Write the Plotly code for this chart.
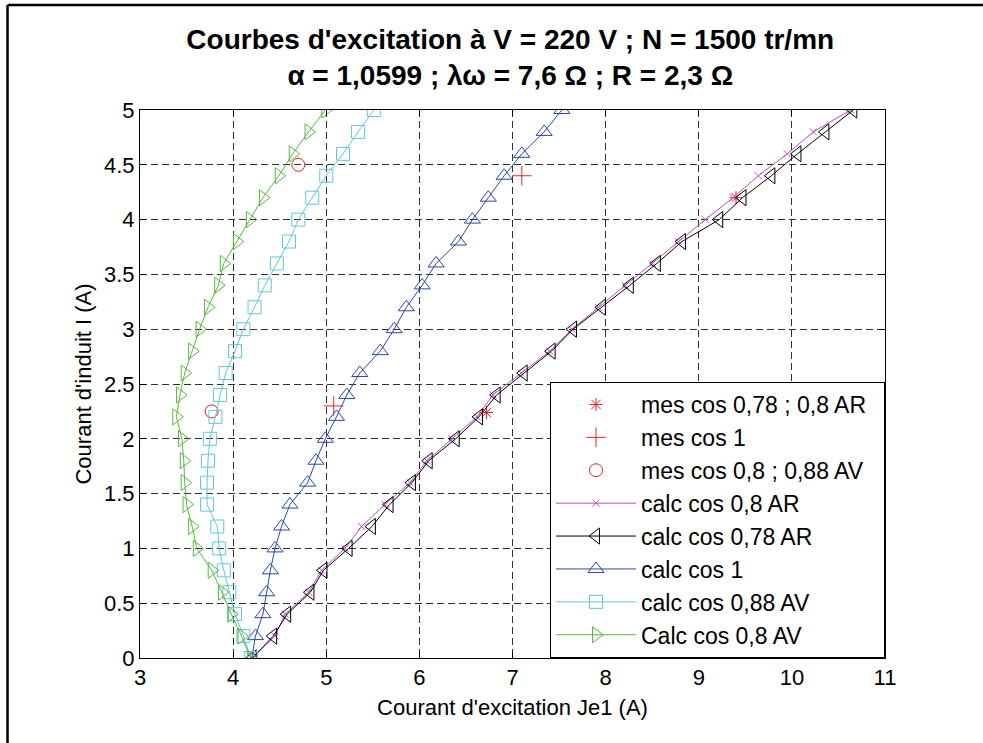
import plotly.graph_objects as go

# Current I (A) levels for calculated curves
I_calc = [0.0, 0.2, 0.4, 0.6, 0.8, 1.0, 1.2, 1.4, 1.6, 1.8, 2.0, 2.2, 2.4,
          2.6, 2.8, 3.0, 3.2, 3.4, 3.6, 3.8, 4.0, 4.2, 4.4, 4.6, 4.8, 5.0]

Je_calc_08AR = [4.20, 4.45, 4.56, 4.81, 4.95, 5.20, 5.38, 5.63, 5.90, 6.08, 6.35, 6.62, 6.79,
                7.09, 7.40, 7.64, 7.92, 8.21, 8.50, 8.78, 9.07, 9.37, 9.64, 9.95, 10.23, 10.63]
Je_calc_078AR = [4.21, 4.43, 4.58, 4.83, 4.97, 5.24, 5.49, 5.68, 5.92, 6.10, 6.39, 6.64, 6.83,
                 7.12, 7.42, 7.65, 7.96, 8.26, 8.55, 8.82, 9.22, 9.47, 9.78, 10.06, 10.36, 10.66]
Je_calc_1 = [4.20, 4.24, 4.32, 4.36, 4.40, 4.45, 4.52, 4.61, 4.80, 4.89, 4.99, 5.11, 5.22,
             5.36, 5.58, 5.73, 5.86, 6.03, 6.18, 6.42, 6.57, 6.74, 6.91, 7.10, 7.34, 7.53]
Je_calc_088AV = [4.19, 4.11, 4.02, 3.96, 3.90, 3.85, 3.83, 3.72, 3.72, 3.73, 3.75, 3.81, 3.86,
                 3.92, 4.02, 4.11, 4.23, 4.34, 4.47, 4.60, 4.70, 4.85, 5.00, 5.18, 5.34, 5.51]
Je_calc_08AV = [4.19, 4.09, 3.98, 3.88, 3.77, 3.61, 3.56, 3.50, 3.48, 3.47, 3.45, 3.39, 3.43,
                3.48, 3.56, 3.64, 3.73, 3.84, 3.90, 4.04, 4.18, 4.32, 4.49, 4.64, 4.81, 4.99]

# Measured points
Je_mes_AR = [6.72, 9.40]
I_mes_AR = [2.24, 4.20]
Je_mes_1 = [5.08, 7.10]
I_mes_1 = [2.30, 4.40]
Je_mes_AV = [3.77, 4.70]
I_mes_AV = [2.25, 4.50]

x_ticks = [3, 4, 5, 6, 7, 8, 9, 10, 11]
y_ticks = [0, 0.5, 1, 1.5, 2, 2.5, 3, 3.5, 4, 4.5, 5]
y_tick_labels = ["0", "0.5", "1", "1.5", "2", "2.5", "3", "3.5", "4", "4.5", "5"]

RED = "#f02020"
MAG = "#c050c0"
BLUE = "#2848a8"
CYAN = "#60c8d8"
GREEN = "#58b840"
FONT = "Arial, 'Liberation Sans', sans-serif"
PAD = "\u00a0\u00a0"

fig = go.Figure()

def add(x, y, name, mode, symbol, size, color, grp):
    fig.add_trace(go.Scatter(
        x=x, y=y, name=name, mode=mode, legendgroup=grp,
        line=dict(color=color, width=1),
        marker=dict(symbol=symbol, size=size, color=color,
                    line=dict(color=color, width=1)),
    ))

add(Je_mes_AR, I_mes_AR, "mes cos 0,78 ; 0,8 AR" + PAD, "markers", "asterisk-open", 11, RED, "g1")
add(Je_mes_1, I_mes_1, "mes cos 1", "markers", "cross-thin-open", 14, RED, "g2")
add(Je_mes_AV, I_mes_AV, "mes cos 0,8 ; 0,88 AV", "markers", "circle-open", 13, RED, "g3")
add(Je_calc_08AR, I_calc, "calc cos 0,8 AR", "lines+markers", "x-thin-open", 7, MAG, "g4")
add(Je_calc_078AR, I_calc, "calc cos 0,78 AR", "lines+markers", "triangle-left-open", 14, "#000000", "g5")
add(Je_calc_1, I_calc, "calc cos 1", "lines+markers", "triangle-up-open", 14, BLUE, "g6")
add(Je_calc_088AV, I_calc, "calc cos 0,88 AV", "lines+markers", "square-open", 13, CYAN, "g7")
add(Je_calc_08AV, I_calc, "Calc cos 0,8 AV", "lines+markers", "triangle-right-open", 14, GREEN, "g8")

axis_common = dict(
    showline=True, linecolor="black", linewidth=1, mirror="ticks",
    ticks="inside", ticklen=6, tickcolor="black",
    showgrid=True, gridcolor="#303030", gridwidth=1, griddash="7px,4px",
    zeroline=False, tickfont=dict(family=FONT, size=22, color="black"),
)

fig.update_layout(
    width=983, height=743,
    margin=dict(l=140, r=98, t=110, b=85),
    paper_bgcolor="white", plot_bgcolor="white",
    font=dict(family=FONT, color="black"),
    title=dict(
        text="<b>Courbes d'excitation à V = 220 V ; N = 1500 tr/mn<br>α = 1,0599 ; λω = 7,6 Ω ; R = 2,3 Ω</b>",
        x=0.497, xref="paper", xanchor="center", y=0.934, yanchor="top",
        font=dict(family=FONT, size=28, color="black"),
    ),
    xaxis=dict(range=[3, 11], tickvals=x_ticks, **axis_common,
               title=dict(text="Courant d'excitation Je1 (A)", standoff=10,
                          font=dict(family=FONT, size=22, color="black"))),
    yaxis=dict(range=[0, 5], tickvals=y_ticks, ticktext=y_tick_labels, **axis_common,
               title=dict(text="Courant d'induit I (A)", standoff=6,
                          font=dict(family=FONT, size=22, color="black"))),
    legend=dict(
        x=1, y=0, xanchor="right", yanchor="bottom",
        bgcolor="white", bordercolor="black", borderwidth=1,
        font=dict(family=FONT, size=23, color="black"),
        itemwidth=80, tracegroupgap=0, traceorder="grouped",
    ),
    showlegend=True,
    shapes=[
        dict(type="line", xref="paper", yref="paper",
             x0=(7.5 - 140) / 745, x1=(7.5 - 140) / 745,
             y0=(658 - 5) / 548, y1=(658 - 760) / 548,
             line=dict(color="black", width=2.5)),
        dict(type="line", xref="paper", yref="paper",
             x0=(7.5 - 140) / 745, x1=(1000 - 140) / 745,
             y0=(658 - 5) / 548, y1=(658 - 5) / 548,
             line=dict(color="black", width=2.5)),
    ],
)

fig.write_html("out.html", config={"displayModeBar": False},
               post_script="document.body.style.margin='0';document.body.style.overflow='hidden';")
